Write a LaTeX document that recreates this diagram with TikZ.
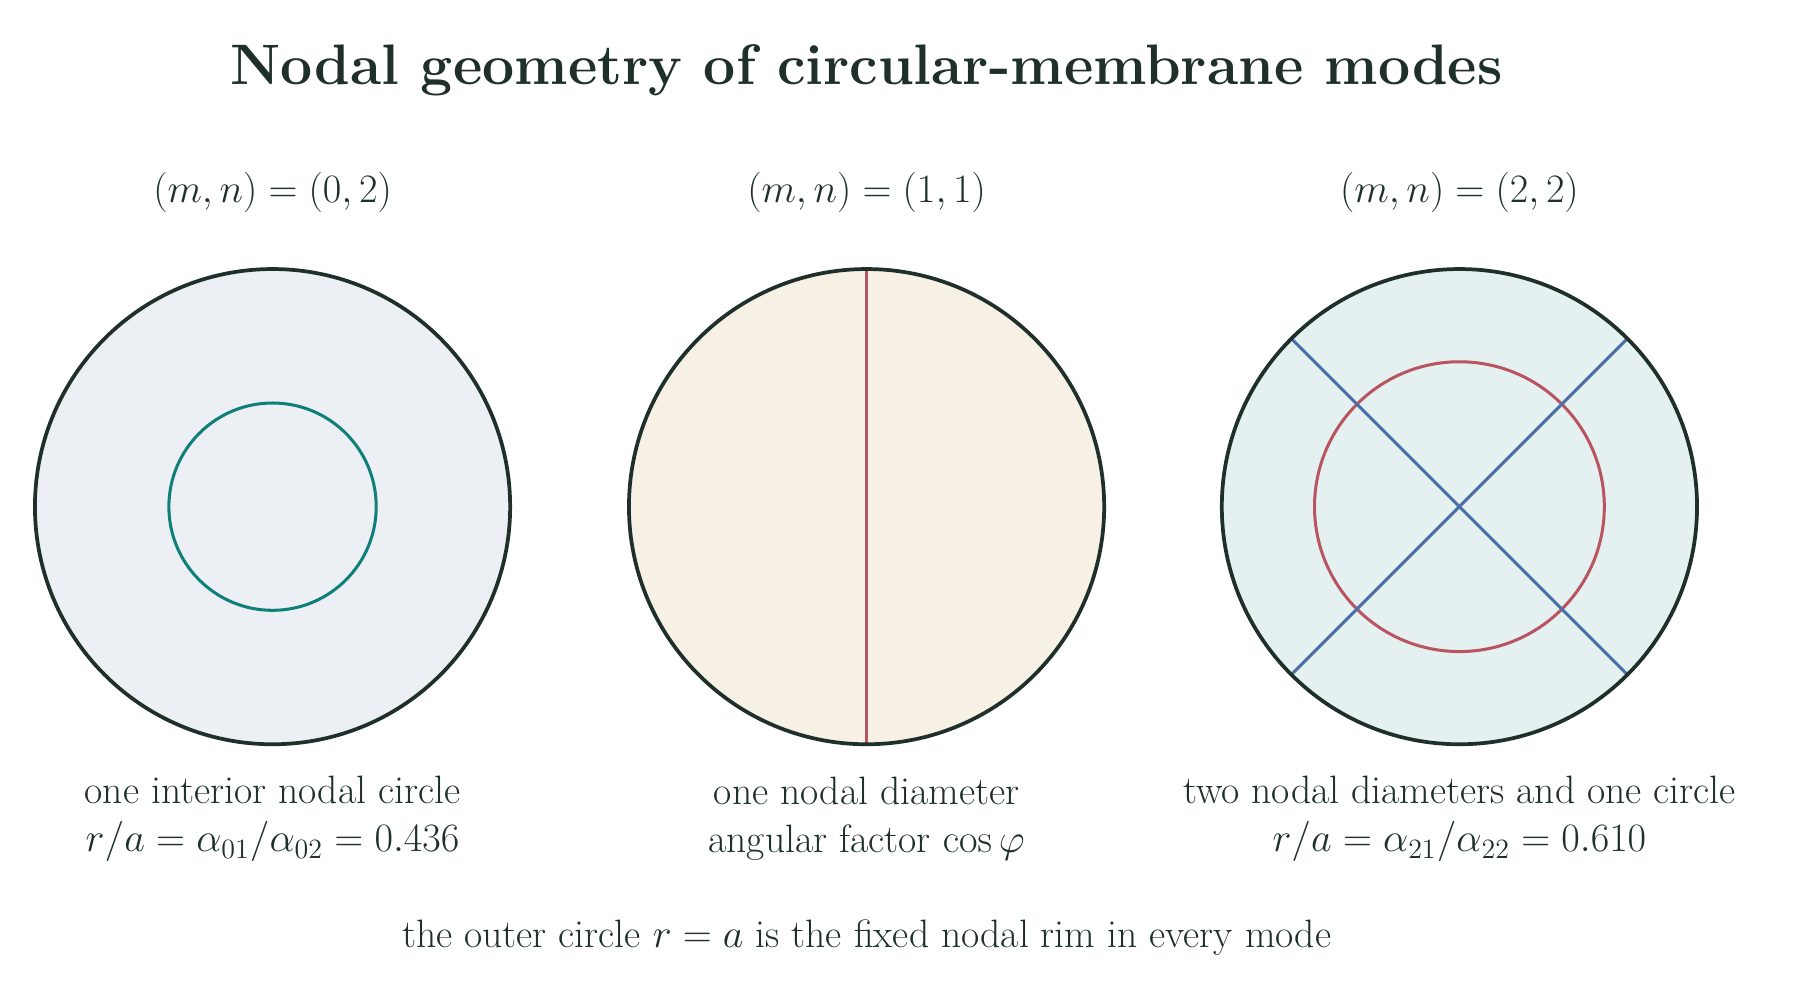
\documentclass[tikz,border=0pt]{standalone}
\begin{document}
\begin{tikzpicture}[x=0.5pt,y=-0.5pt,
  every node/.style={text=ink,inner sep=0pt},
  rim/.style={draw=ink,line width=1.6pt},
  lab/.style={font=\fontsize{17}{21}\selectfont,align=center},
  head/.style={font=\fontsize{17}{21}\selectfont}]
\definecolor{ink}{HTML}{1F302B}
\definecolor{fa}{HTML}{ECF0F4}
\definecolor{fb}{HTML}{F7F0E5}
\definecolor{fc}{HTML}{E5F1F0}
\definecolor{teal}{HTML}{0F7F7A}
\definecolor{rd}{HTML}{B85560}
\definecolor{bl}{HTML}{4A6FA8}
\useasboundingbox (0,0) rectangle (1560,860);
\node[font=\fontsize{24.5}{28}\selectfont\bfseries] (title) at (744,60) {Nodal geometry of circular-membrane modes};
\node[head] (h1) at (234,165) {$(m,n)=(0,2)$};
\node[head] (h2) at (744,165) {$(m,n)=(1,1)$};
\node[head] (h3) at (1253,165) {$(m,n)=(2,2)$};
% mode 1
\coordinate (c1) at (234,435);
\fill[fa] (c1) circle (204);
\draw[teal,line width=1.3pt] (c1) circle (89);
\draw[rim] (c1) circle (204);
% mode 2
\coordinate (c2) at (744,435);
\fill[fb] (c2) circle (204);
\coordinate (t2) at (744,231); \coordinate (b2) at (744,639);
\draw[rd,line width=1.3pt] (t2) -- (b2);
\draw[rim] (c2) circle (204);
% mode 3
\coordinate (c3) at (1253,435);
\fill[fc] (c3) circle (204);
\draw[rd,line width=1.3pt] (c3) circle (124.4);
\draw[bl,line width=1.3pt] (c3) ++(135:204) -- ++(-45:408);
\draw[bl,line width=1.3pt] (c3) ++(45:204) -- ++(-135:408);
\draw[rim] (c3) circle (204);
\node[lab] (l1) at (234,703) {one interior nodal circle\\$r/a=\alpha_{01}/\alpha_{02}=0.436$};
\node[lab] (l2) at (744,703) {one nodal diameter\\angular factor $\cos\varphi$};
\node[lab] (l3) at (1253,703) {two nodal diameters and one circle\\$r/a=\alpha_{21}/\alpha_{22}=0.610$};
\node[lab] (foot) at (744,805) {the outer circle $r=a$ is the fixed nodal rim in every mode};
\end{tikzpicture}
\end{document}
